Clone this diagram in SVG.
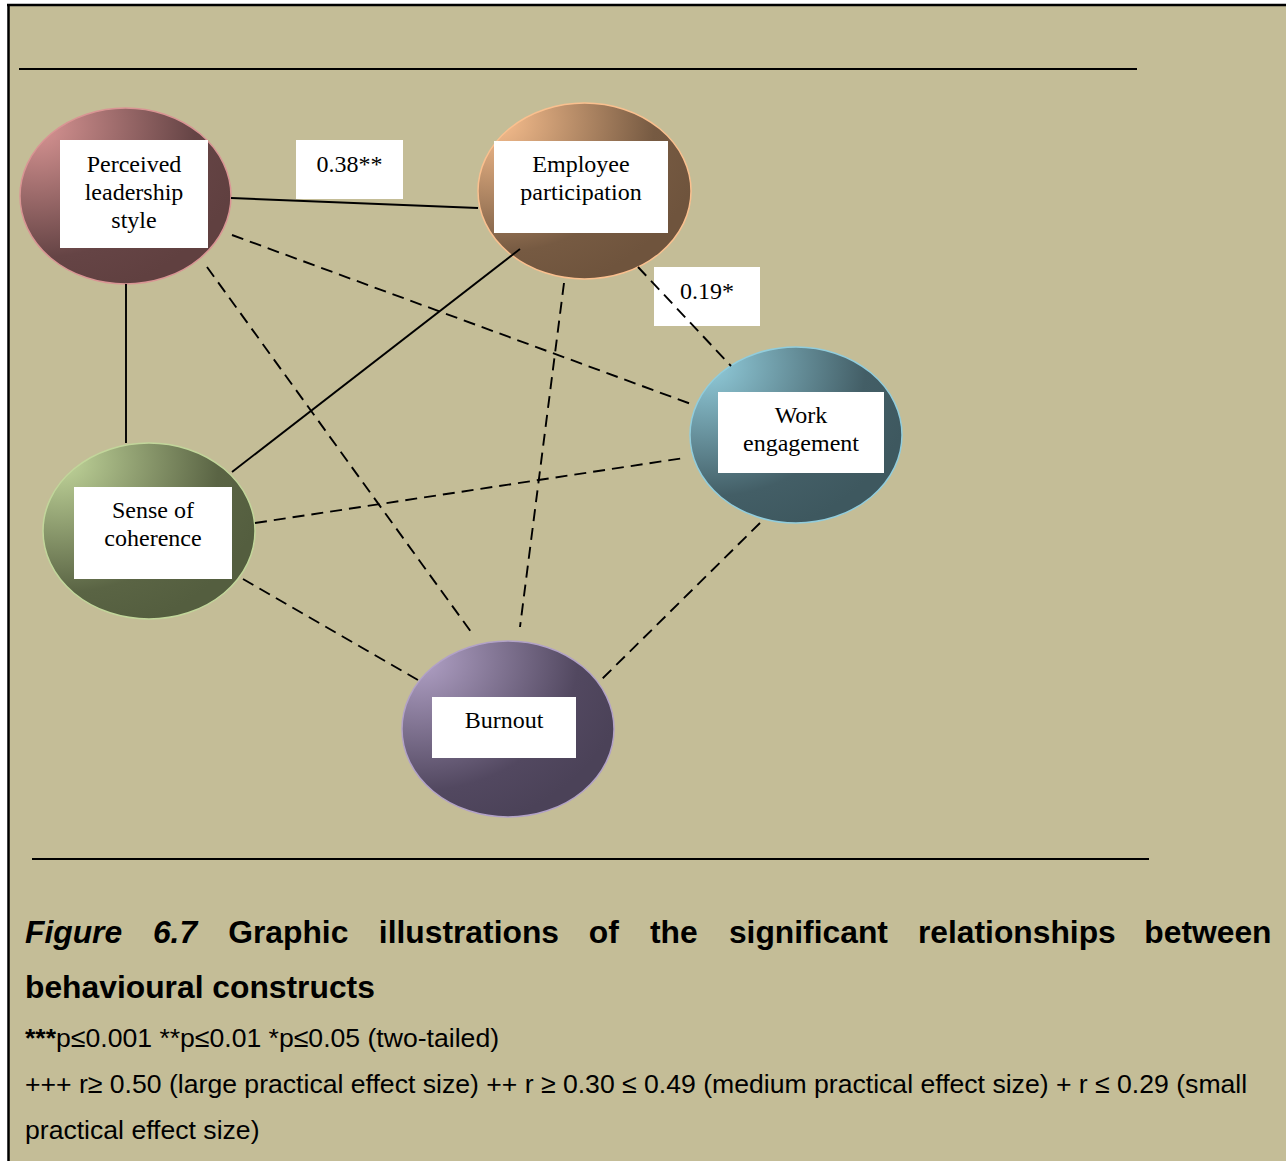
<svg xmlns="http://www.w3.org/2000/svg" width="1286" height="1161" viewBox="0 0 1286 1161">
<style>
.box{fill:#FFFFFF}
.nl{font-family:"Liberation Serif","Times New Roman",serif;font-size:24px;fill:#000;text-anchor:middle}
.solid{stroke:#000;stroke-width:1.9;fill:none}
.dash{stroke:#000;stroke-width:1.9;fill:none;stroke-dasharray:12 7}
.cap{font-family:"Liberation Sans",Arial,sans-serif;font-size:31.8px;font-weight:bold;fill:#000}
.leg{font-family:"Liberation Sans",Arial,sans-serif;font-size:26.6px;fill:#000}
.rule{stroke:#000;stroke-width:2}
</style>
<defs>
<radialGradient id="gPLS" cx="0.08" cy="0.1" r="1" fx="0.08" fy="0.1">
<stop offset="0" stop-color="#D99594"/><stop offset="0.75" stop-color="#654445"/><stop offset="1" stop-color="#604040"/>
</radialGradient>
<radialGradient id="gEP" cx="0.08" cy="0.1" r="1" fx="0.08" fy="0.1">
<stop offset="0" stop-color="#FAC08F"/><stop offset="0.75" stop-color="#765A42"/><stop offset="1" stop-color="#6F543D"/>
</radialGradient>
<radialGradient id="gWE" cx="0.08" cy="0.1" r="1" fx="0.08" fy="0.1">
<stop offset="0" stop-color="#92CDDC"/><stop offset="0.75" stop-color="#435E66"/><stop offset="1" stop-color="#3E585F"/>
</radialGradient>
<radialGradient id="gSOC" cx="0.08" cy="0.1" r="1" fx="0.08" fy="0.1">
<stop offset="0" stop-color="#C2D69B"/><stop offset="0.75" stop-color="#5A6444"/><stop offset="1" stop-color="#545E3F"/>
</radialGradient>
<radialGradient id="gBO" cx="0.08" cy="0.1" r="1" fx="0.08" fy="0.1">
<stop offset="0" stop-color="#B2A2C7"/><stop offset="0.75" stop-color="#524860"/><stop offset="1" stop-color="#4B4258"/>
</radialGradient>
</defs>

<rect x="0" y="0" width="1286" height="1161" fill="#FFFFFF"/>
<rect x="8" y="4" width="1278" height="1157" fill="#C4BD97"/>
<line x1="7" y1="5" x2="1286" y2="5" stroke="#000" stroke-width="2.5"/>
<line x1="8.5" y1="4" x2="8.5" y2="1161" stroke="#000" stroke-width="2.5"/>
<line class="rule" x1="19" y1="69" x2="1137" y2="69"/>
<line class="rule" x1="32" y1="859" x2="1149" y2="859"/>

<g id="node-pls">
<ellipse cx="125.5" cy="196" rx="105.5" ry="88" fill="url(#gPLS)" stroke="#D99594" stroke-width="1.5"/>
<rect class="box" x="60" y="140" width="148" height="108"/>
<text class="nl" x="134" y="172">Perceived</text>
<text class="nl" x="134" y="200">leadership</text>
<text class="nl" x="134" y="228">style</text>
</g>
<g id="node-ep">
<ellipse cx="584.5" cy="191" rx="106.5" ry="88" fill="url(#gEP)" stroke="#FAC08F" stroke-width="1.5"/>
<rect class="box" x="494" y="141" width="174" height="92"/>
<text class="nl" x="581" y="172">Employee</text>
<text class="nl" x="581" y="200">participation</text>
</g>
<g id="node-we">
<ellipse cx="796" cy="435" rx="106" ry="88" fill="url(#gWE)" stroke="#92CDDC" stroke-width="1.5"/>
<rect class="box" x="718" y="392" width="166" height="81"/>
<text class="nl" x="801" y="423">Work</text>
<text class="nl" x="801" y="451">engagement</text>
</g>
<g id="node-soc">
<ellipse cx="149" cy="531" rx="106" ry="88" fill="url(#gSOC)" stroke="#C2D69B" stroke-width="1.5"/>
<rect class="box" x="74" y="487" width="158" height="92"/>
<text class="nl" x="153" y="518">Sense of</text>
<text class="nl" x="153" y="546">coherence</text>
</g>
<g id="node-bo">
<ellipse cx="508" cy="729" rx="106" ry="88" fill="url(#gBO)" stroke="#B2A2C7" stroke-width="1.5"/>
<rect class="box" x="432" y="697" width="144" height="61"/>
<text class="nl" x="504" y="728">Burnout</text>
</g>

<g id="edge-labels">
<rect class="box" x="296" y="140" width="107" height="59"/>
<text class="nl" x="349.5" y="172">0.38**</text>
<rect class="box" x="654" y="267" width="106" height="59"/>
<text class="nl" x="707" y="299">0.19*</text>
</g>

<g id="connectors">
<line class="solid" x1="231" y1="198" x2="478" y2="208"/>
<line class="solid" x1="126" y1="284" x2="126" y2="443"/>
<line class="solid" x1="520" y1="249" x2="232" y2="472"/>
<line class="dash" x1="232" y1="235" x2="691" y2="404"/>
<line class="dash" x1="207" y1="267" x2="474" y2="636"/>
<line class="dash" x1="564" y1="283" x2="520" y2="627"/>
<line class="dash" x1="638" y1="267" x2="731" y2="366"/>
<line class="dash" x1="255" y1="523" x2="684" y2="458"/>
<line class="dash" x1="243" y1="579" x2="418" y2="680"/>
<line class="dash" x1="760" y1="523" x2="599" y2="682"/>
</g>

<g id="caption">
<text class="cap" y="943"><tspan x="25" font-style="italic">Figure</tspan><tspan x="152.9" font-style="italic">6.7</tspan><tspan x="228.2">Graphic</tspan><tspan x="378.8">illustrations</tspan><tspan x="588.8">of</tspan><tspan x="650">the</tspan><tspan x="728.9">significant</tspan><tspan x="917.9">relationships</tspan></text>
<text class="cap" x="1271.5" y="943" text-anchor="end">between</text>
<text class="cap" x="25" y="998">behavioural constructs</text>
<text class="leg" x="25" y="1047"><tspan font-weight="bold">***</tspan>p≤0.001 **p≤0.01 *p≤0.05 (two-tailed)</text>
<text class="leg" x="25" y="1093">+++ r≥ 0.50 (large practical effect size) ++ r ≥ 0.30 ≤ 0.49 (medium practical effect size) + r ≤ 0.29 (small</text>
<text class="leg" x="25" y="1139">practical effect size)</text>
</g>
</svg>
